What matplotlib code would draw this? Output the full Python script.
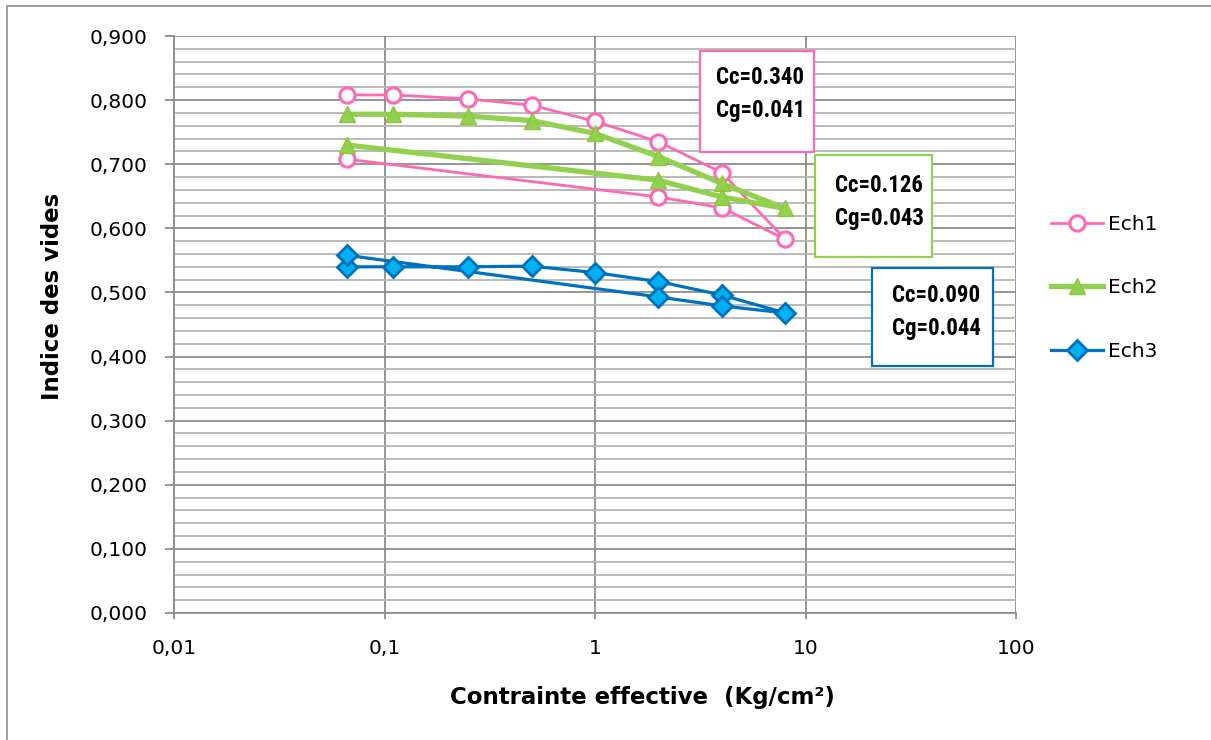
import matplotlib
matplotlib.use("Agg")
import matplotlib.pyplot as plt
from matplotlib import font_manager
from matplotlib.patches import Rectangle
from matplotlib.ticker import FixedLocator, FuncFormatter, NullLocator

# pick a narrow font for the Cc/Cg boxes if one is installed
names = set(f.name for f in font_manager.fontManager.ttflist)
narrow_font = 'DejaVu Sans'
for cand in ['Liberation Sans Narrow', 'DejaVu Sans Condensed', 'Roboto Condensed']:
    if cand in names:
        narrow_font = cand
        break
plt.rcParams['font.family'] = ['DejaVu Sans']

# data: loading then unloading path for each sample
pressure = [0.066, 0.11, 0.25, 0.5, 1, 2, 4, 8, 4, 2, 0.066]
ech1 = [0.808, 0.808, 0.802, 0.792, 0.767, 0.735, 0.687, 0.583, 0.632, 0.649, 0.708]
ech2 = [0.778, 0.778, 0.775, 0.768, 0.748, 0.712, 0.670, 0.631, 0.649, 0.675, 0.730]
ech3 = [0.540, 0.540, 0.540, 0.541, 0.531, 0.517, 0.496, 0.468, 0.479, 0.493, 0.558]

x_ticks = [0.01, 0.1, 1, 10, 100]
x_labels = ['0,01', '0,1', '1', '10', '100']

notes = ['Cc=0.340\nCg=0.041', 'Cc=0.126\nCg=0.043', 'Cc=0.090\nCg=0.044']

pink = '#FF69B4'
green = '#92D050'
blue = '#0070C0'

W, H = 1211, 740
fig = plt.figure(figsize=(W / 100, H / 100), dpi=100)
ax = fig.add_axes([174 / W, 1 - 613 / H, (1016 - 174) / W, (613 - 36) / H])

# outer border of the chart area
fig.patches.append(Rectangle((7 / W, -0.01), 1.02, 1 - 6 / H + 0.01,
                             transform=fig.transFigure, fill=False,
                             edgecolor='#8C8C8C', linewidth=1.2))

ax.plot(pressure, ech1, color=pink, lw=2.0, marker='o', ms=11,
        mfc='white', mec=pink, mew=2.2, label='Ech1', zorder=3)
ax.plot(pressure, ech2, color=green, lw=3.8, marker='^', ms=11,
        mfc=green, mec='#8CC83C', mew=1.0, label='Ech2', zorder=3)
ax.plot(pressure, ech3, color=blue, lw=2.3, marker='D', ms=10.5,
        mfc='#00B0F0', mec=blue, mew=2.0, label='Ech3', zorder=3)

ax.set_xscale('log')
ax.set_xlim(0.01, 100)
ax.set_ylim(0, 0.9)
ax.xaxis.set_major_locator(FixedLocator(x_ticks))
ax.xaxis.set_minor_locator(NullLocator())
ax.set_xticklabels(x_labels)
ax.set_yticks([i / 10 for i in range(10)])
ax.set_yticks([i / 50 for i in range(46)], minor=True)
ax.yaxis.set_major_formatter(FuncFormatter(lambda v, p: ('%.3f' % v).replace('.', ',')))

ax.grid(axis='y', which='minor', color='#B4B4B4', lw=1.3, zorder=0)
ax.grid(axis='y', which='major', color='#8C8C8C', lw=1.3, zorder=0)
ax.grid(axis='x', which='major', color='#8C8C8C', lw=1.3, zorder=0)
ax.set_axisbelow(True)

for s in ['top', 'right']:
    ax.spines[s].set_visible(False)
for s in ['left', 'bottom']:
    ax.spines[s].set_color('#8C8C8C')
    ax.spines[s].set_linewidth(1.3)

ax.tick_params(axis='y', which='major', length=6.5, color='#8C8C8C', width=1.3,
               labelsize=14.5, pad=12.5)
ax.tick_params(axis='y', which='minor', length=0)
ax.tick_params(axis='x', which='major', length=4, color='#8C8C8C', width=1.3,
               labelsize=14.5, pad=15)

ax.set_ylabel('Indice des vides', fontsize=16.5, fontweight='bold')
ax.set_xlabel('Contrainte effective  (Kg/cm²)', fontsize=16.5, fontweight='bold')
ax.yaxis.set_label_coords((64 - 174) / 842, (613 - 296) / 577)
ax.xaxis.set_label_coords((642 - 174) / 842, (613 - 686) / 577)

# annotation boxes (pixel boxes from the reference)
boxes = [(700, 51, 814, 152, pink, 716, 94),
         (815, 155, 932, 257, green, 835, 202),
         (872, 268, 993, 366, blue, 892, 312)]
for (x0, y0, x1, y1, col, tx, ty), txt in zip(boxes, notes):
    fig.patches.append(Rectangle((x0 / W, 1 - y1 / H), (x1 - x0) / W, (y1 - y0) / H,
                                 transform=fig.transFigure, facecolor='white',
                                 edgecolor=col, linewidth=1.6, zorder=5))
    fig.text(tx / W, 1 - ty / H, txt, family=narrow_font, fontweight='bold',
             fontsize=16.5, va='center', ha='left', linespacing=1.55, zorder=6)

fig.legend(loc='center left', bbox_to_anchor=(1033 / W, 1 - 288 / H),
           frameon=False, fontsize=14.5, handlelength=2.6, handletextpad=0.2,
           labelspacing=2.2)

fig.savefig('out.png', dpi=100)
